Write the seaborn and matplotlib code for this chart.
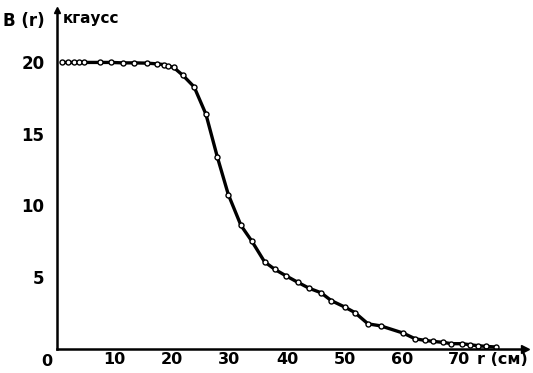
import matplotlib
matplotlib.use("Agg")
import matplotlib.pyplot as plt
import seaborn as sns
import pandas as pd

r_cm = [0.9, 2.0, 2.9, 3.8, 4.7, 7.5, 9.4, 11.4, 13.4, 15.7, 17.4, 18.6, 19.3, 20.3,
        21.9, 23.85, 25.9, 27.9, 29.8, 32.0, 33.9, 36.1, 37.9, 39.8, 41.9, 43.9,
        45.9, 47.7, 50.1, 51.8, 54.1, 56.3, 60.2, 62.3, 64.0, 65.4, 67.2, 68.6,
        70.4, 71.8, 73.2, 74.7, 76.3]
B_kgauss = [19.95, 19.95, 19.95, 19.95, 19.95, 19.95, 19.95, 19.92, 19.92, 19.9, 19.85,
            19.8, 19.7, 19.6, 19.05, 18.25, 16.35, 13.35, 10.75, 8.6, 7.5, 6.07,
            5.54, 5.1, 4.64, 4.22, 3.92, 3.37, 2.91, 2.54, 1.75, 1.61, 1.11, 0.71,
            0.6, 0.53, 0.46, 0.37, 0.37, 0.3, 0.23, 0.18, 0.14]
x_ticks = [10, 20, 30, 40, 50, 60, 70]
y_ticks = [5, 10, 15, 20]

df = pd.DataFrame({"r": r_cm, "B": B_kgauss})

sns.set_style("white")
plt.rcParams["font.family"] = ["DejaVu Sans"]
plt.rcParams["text.color"] = "black"

fig = plt.figure(figsize=(5.33, 3.73), dpi=100)
ax = fig.add_axes([57 / 533, 24 / 373, 468 / 533, 339 / 373])

sns.lineplot(data=df, x="r", y="B", ax=ax, color="black", linewidth=2.4,
             marker="o", markersize=3.6, markerfacecolor="white",
             markeredgecolor="black", markeredgewidth=1.0, sort=False)

ax.set_xlim(0, 81.4)
ax.set_ylim(0, 23.6)
ax.set_xlabel("")
ax.set_ylabel("")

for s in ["top", "right"]:
    ax.spines[s].set_visible(False)
for s in ["left", "bottom"]:
    ax.spines[s].set_color("black")
    ax.spines[s].set_linewidth(1.8)

ax.set_xticks(x_ticks)
ax.set_xticklabels([str(t) for t in x_ticks])
ax.set_yticks(y_ticks)
ax.set_yticklabels([str(t) for t in y_ticks])
ax.tick_params(axis="x", direction="in", length=8, width=1.5, pad=2,
               labelsize=11.5, colors="black")
ax.tick_params(axis="y", direction="in", length=5, width=1.5, pad=9,
               labelsize=12, colors="black")
for lab in ax.get_xticklabels() + ax.get_yticklabels():
    lab.set_fontweight("bold")

# arrows at axis ends
ax.plot(1, 0, ">", color="black", markersize=6, transform=ax.transAxes, clip_on=False)
ax.plot(0, 1, "^", color="black", markersize=5, transform=ax.transAxes, clip_on=False)

# origin label
ax.text(-1.7, -0.35, "0", ha="center", va="top", fontsize=11.5, fontweight="bold")

# axis labels
fig.text(3 / 533, 1 - 21 / 373, "B (r)", ha="left", va="center",
         fontsize=12, fontweight="bold")
fig.text(63 / 533, 1 - 19 / 373, "кгаусс", ha="left", va="center",
         fontsize=11, fontweight="bold")
fig.text(477 / 533, 1 - 360 / 373, "r (см)", ha="left", va="center",
         fontsize=11.5, fontweight="bold")

fig.savefig("out.png", dpi=100, facecolor="white")
